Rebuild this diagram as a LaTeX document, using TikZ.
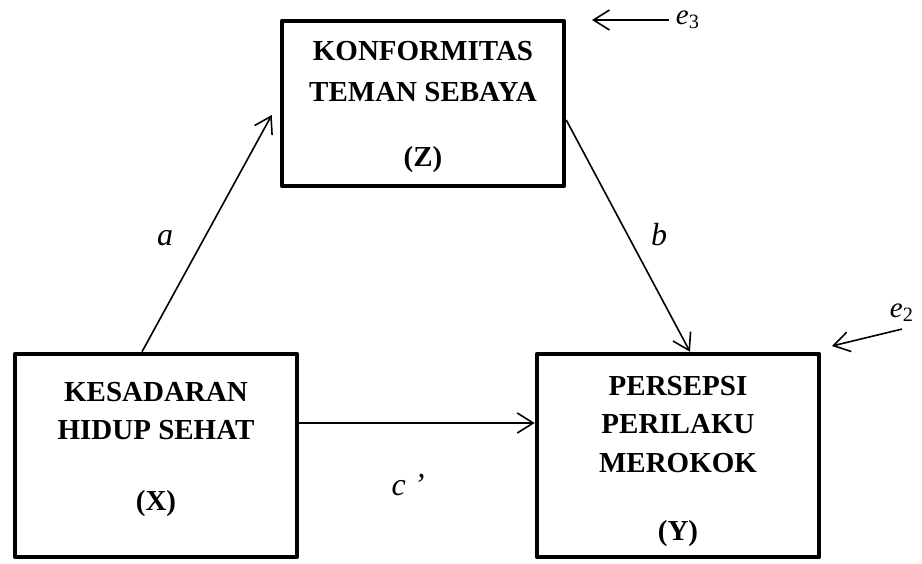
\documentclass[tikz,border=0pt]{standalone}
\usepackage{fontspec}
\setmainfont{Liberation Serif}
\usetikzlibrary{arrows.meta, positioning, calc}

\begin{document}
\begin{tikzpicture}[x=0.5pt, y=-0.5pt,
		var/.style={draw, line width=2.25pt, line join=round, minimum width=141pt, minimum height=82.5pt},
		vartext/.style={align=center, font=\fontsize{14.5}{#1}\selectfont\bfseries},
		coef/.style={font=\fontsize{16}{19}\selectfont\itshape},
		err/.style={font=\fontsize{14.5}{17}\selectfont\itshape},
		link/.style={line width=0.8pt, -{Straight Barb[length=8pt,width=10pt]}}]
				\useasboundingbox (0,0) rectangle (922,563);
				% variables
				\node[var] (Z) at (423,103.5) {};
				\node[var, minimum height=101.5pt] (X) at (156,455.5) {};
				\node[var, minimum height=101.5pt] (Y) at (678,455.5) {};
				\node[vartext=20.5pt] (Ztext) at ([yshift=-1.75pt]Z.center) {KONFORMITAS\\TEMAN SEBAYA\\[12pt](Z)};
				\node[vartext=19pt] (Xtext) at ([yshift=3pt]X.center) {KESADARAN\\HIDUP SEHAT\\[16.5pt](X)};
				\node[vartext=19.25pt] (Ytext) at ([yshift=-2.75pt]Y.center) {PERSEPSI\\PERILAKU\\MEROKOK\\[14.75pt](Y)};
				% paths
				\draw[link] ([xshift=-7pt]X.north) -- ([xshift=-4pt, yshift=-5.75pt]Z.west);
				\draw[link] ([yshift=-8.25pt]Z.east) -- ([xshift=6pt]Y.north);
				\draw[link] ([yshift=16.25pt]X.east) -- ([yshift=16.25pt]Y.west);
				\node[coef] (a) at (165,238) {a};
				\node[coef] (b) at (659,235) {b};
				\node[coef] (c) at (408,485) {c ’};
				% errors
				\node[err] (e3) at (688,20) {e\textsubscript{\upshape 3}};
				\coordinate (e3tip) at (592,20);
				\draw[link] (e3) -- (e3tip);
				\node[err] (e2) at (902,313) {e\textsubscript{\upshape 2}};
				\coordinate (e2tip) at (832,346);
				\draw[link] (e2.south) -- (e2tip);
			\end{tikzpicture}
\end{document}
